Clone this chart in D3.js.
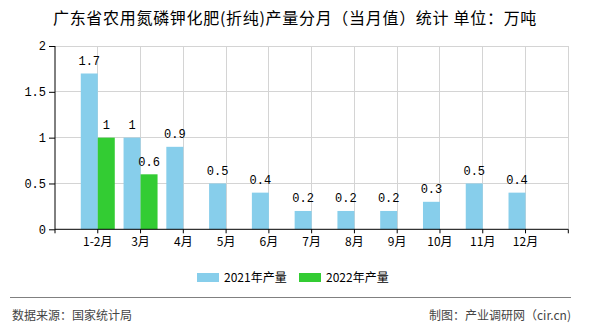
<!DOCTYPE html>
<html><head><meta charset="utf-8">
<script src="https://cdn.jsdelivr.net/npm/d3@7"></script>
<style>
body{margin:0;background:#fff;}
svg{display:block;font-family:"Noto Sans CJK SC","Noto Sans",sans-serif;}
</style></head>
<body><svg id="c" width="590" height="330"></svg>
<script>
const categories = ["1-2月","3月","4月","5月","6月","7月","8月","9月","10月","11月","12月"];
const values2021 = [1.7,1,0.9,0.5,0.4,0.2,0.2,0.2,0.3,0.5,0.4];
const values2022 = [1,0.6,null,null,null,null,null,null,null,null,null];
const yTicks = [0,0.5,1,1.5,2];
const yTickLabels = ["0","0.5","1","1.5","2"];
const seriesNames = ["2021年产量","2022年产量"];
const colors = ["#87CEEB","#33CC33"];

const svg = d3.select("#c");
const L = 55, R = 568.3, T = 46, B = 229.3;
const x = d3.scalePoint().domain(categories).range([L, R]).padding(1);
const y = d3.scaleLinear().domain([0, 2]).range([B, T]);
const bw = 17;
const mono = "'Liberation Mono','DejaVu Sans Mono',monospace";

// title
svg.append("text").attr("x", 295).attr("y", 24).attr("text-anchor", "middle")
  .attr("font-size", 16).attr("letter-spacing", 0.7).attr("fill", "#000")
  .text("广东省农用氮磷钾化肥(折纯)产量分月（当月值）统计 单位：万吨");

// grid
const g = svg.append("g");
g.selectAll(".hg").data(yTicks.filter(d => d > 0)).join("line")
  .attr("x1", L).attr("x2", R).attr("y1", d => y(d)).attr("y2", d => y(d))
  .attr("stroke", "#d4d4d4").attr("stroke-width", 1).attr("shape-rendering", "crispEdges");
g.selectAll(".vg").data(categories.map(c => x(c)).concat([R])).join("line")
  .attr("x1", d => d).attr("x2", d => d).attr("y1", T).attr("y2", B)
  .attr("stroke", "#d4d4d4").attr("stroke-width", 1).attr("shape-rendering", "crispEdges");

// bars
const bars = svg.append("g");
bars.selectAll(".b1").data(categories.map((c, i) => ({c, v: values2021[i]}))).join("rect")
  .attr("x", d => x(d.c) - bw).attr("width", bw)
  .attr("y", d => y(d.v)).attr("height", d => y(0) - y(d.v)).attr("fill", colors[0]);
bars.selectAll(".b2").data(categories.map((c, i) => ({c, v: values2022[i]})).filter(d => d.v != null)).join("rect")
  .attr("x", d => x(d.c)).attr("width", bw)
  .attr("y", d => y(d.v)).attr("height", d => y(0) - y(d.v)).attr("fill", colors[1]);

// value labels
const lab = svg.append("g").attr("font-family", mono)
  .attr("font-size", 12).attr("text-anchor", "middle").attr("fill", "#000");
lab.selectAll(".l1").data(categories.map((c, i) => ({c, v: values2021[i]}))).join("text")
  .attr("x", d => x(d.c) - bw / 2).attr("y", d => y(d.v) - 8.5).text(d => d.v);
lab.selectAll(".l2").data(categories.map((c, i) => ({c, v: values2022[i]})).filter(d => d.v != null)).join("text")
  .attr("x", d => x(d.c) + bw / 2).attr("y", d => y(d.v) - 8.5).text(d => d.v);

// axes
const yAxis = d3.axisLeft(y).tickValues(yTicks).tickFormat((d, i) => yTickLabels[i]).tickSize(6).tickPadding(3);
const ya = svg.append("g").attr("transform", `translate(${L},0)`).call(yAxis);
ya.select(".domain").attr("stroke", "#000").attr("d", `M0,${T}V${B}`);
ya.selectAll(".tick line").attr("stroke", "#000");
ya.selectAll("text").attr("font-family", mono).attr("font-size", 12).attr("fill", "#000");

const xa = svg.append("g").attr("transform", `translate(0,${B})`);
xa.append("line").attr("x1", L).attr("x2", R).attr("y1", 0).attr("y2", 0).attr("stroke", "#000");
xa.selectAll(".xt").data([L].concat(categories.map(c => x(c))).concat([R])).join("line")
  .attr("x1", d => d).attr("x2", d => d).attr("y1", 0).attr("y2", 4).attr("stroke", "#000");
xa.selectAll(".xl").data(categories).join("text")
  .attr("x", d => x(d)).attr("y", 17).attr("text-anchor", "middle").attr("font-size", 12).attr("fill", "#000")
  .text(d => d);

// legend
const leg = svg.append("g");
const legX = [197, 299];
seriesNames.forEach((n, i) => {
  leg.append("rect").attr("x", legX[i]).attr("y", 273).attr("width", 22).attr("height", 9).attr("fill", colors[i]);
  leg.append("text").attr("x", legX[i] + 27).attr("y", 282).attr("font-size", 12).attr("fill", "#000").text(n);
});

// footer
svg.append("line").attr("x1", 10).attr("x2", 571).attr("y1", 297.5).attr("y2", 297.5).attr("stroke", "#808080").attr("stroke-width", 1);
svg.append("text").attr("x", 12).attr("y", 320).attr("font-size", 12).attr("fill", "#444").text("数据来源：国家统计局");
svg.append("text").attr("x", 571).attr("y", 320).attr("text-anchor", "end").attr("font-size", 12).attr("fill", "#444").text("制图：产业调研网（cir.cn)");
</script></body></html>
